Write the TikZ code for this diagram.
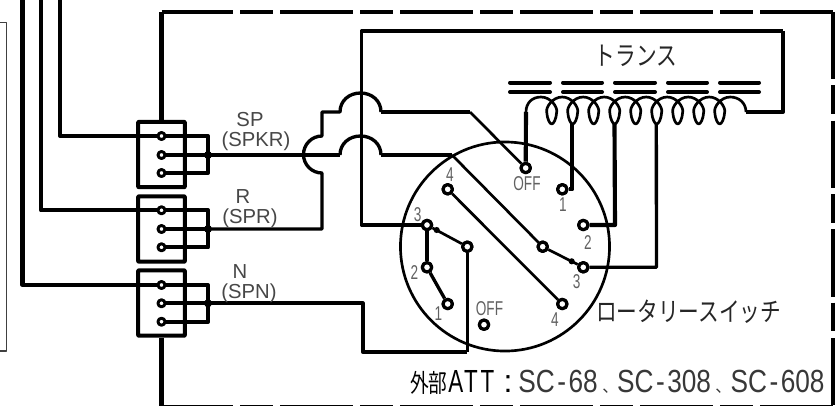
\documentclass[tikz,border=0pt]{standalone}
\usepackage{graphicx}
\usepackage{fontspec}
\setmainfont{Liberation Sans}
\newfontfamily\jpfont{Noto Sans CJK JP}
\newfontfamily\spfont[LetterSpace=12]{Liberation Sans}
\newcommand{\narrow}[1]{\scalebox{0.68}[1]{#1}}
\newcommand{\jptall}[1]{\scalebox{1}[1.28]{#1}}
\newcommand{\scpart}[3]{\makebox[#1pt][c]{\scalebox{0.82}[1]{SC\hspace{2.3pt}-\hspace{2.3pt}#2}}}
\newcommand{\jpcomma}{\makebox[15pt][l]{\hspace{3.5pt}{\jpfont\fontsize{12}{14}\selectfont 、}}}
\begin{document}
\begin{tikzpicture}[x=0.75pt,y=-0.75pt,line join=round,
  wthick/.style={line width=3.1pt},
  wmid/.style={line width=2.5pt},
  wthin/.style={line width=2pt},
  termbox/.style={draw,line width=3.1pt,minimum width=35pt,minimum height=49pt,inner sep=0pt,rounded corners=0.5pt},
  bpin/.style={circle,draw,fill=white,line width=2.2pt,minimum size=5.3pt,inner sep=0pt},
  pin/.style={circle,draw,fill=white,line width=2.4pt,minimum size=7pt,inner sep=0pt},
  dot/.style={circle,fill=black,minimum size=6pt,inner sep=0pt},
  blob/.style={circle,fill=black,minimum size=4.6pt,inner sep=0pt},
  lam/.style={line width=3pt,line cap=round},
  lbl/.style={text=black!72,font=\fontsize{15.2}{16}\selectfont,inner sep=0pt},
  num/.style={text=black!62,font=\fontsize{15}{16}\selectfont,inner sep=0pt},
  jp/.style={text=black!85,font=\jpfont\fontsize{15.5}{16}\selectfont,inner sep=0pt}]
\useasboundingbox (0,0) rectangle (840,405);
\fill[white] (0,0) rectangle (840,405);

% outer dashed frame
\coordinate (ftl) at (161.5,12);
\coordinate (ftr) at (833,12);
\coordinate (fbr) at (833,406.6);
\coordinate (fbl) at (161.5,406.6);
\draw[wthick,dash pattern=on 53.75pt off 5.25pt on 24.75pt off 5.25pt on 54.75pt off 5.25pt on 24.75pt off 5.25pt on 54.75pt off 5.25pt on 24.75pt off 5.25pt on 54.75pt off 5.25pt on 24.75pt off 5.25pt on 54.75pt off 5.25pt on 24.75pt off 5.25pt on 54.75pt off 5.25pt] (ftl) -- (ftr);
\draw[line width=3.5pt,dash pattern=on 50.5pt off 4.5pt on 21.5pt off 5pt] (ftr) -- (fbr);
\draw[wthick,dash pattern=on 53.75pt off 5.25pt on 24.75pt off 5.25pt on 54.75pt off 5.25pt on 24.75pt off 5.25pt on 54.75pt off 5.25pt on 24.75pt off 5.25pt on 54.75pt off 5.25pt on 24.75pt off 5.25pt on 54.75pt off 5.25pt on 24.75pt off 5.25pt on 54.75pt off 5.25pt] (fbl) -- (fbr);

% left panel
\coordinate (pa) at (0,22.5);
\coordinate (pb) at (6.5,22.5);
\coordinate (pc) at (6.5,351);
\coordinate (pd) at (0,351);
\draw[line width=1.1pt,black!75] (pa) -- (pb) -- (pc) -- (pd);

% terminal boxes
\node[termbox] (b1) at (161.5,154.5) {};
\node[termbox] (b2) at (161.5,229) {};
\node[termbox] (b3) at (161.5,303) {};
\draw[wthick] (b1.north) -- (ftl);
\draw[wthick] (b3.south) -- (fbl);

\foreach \n/\y in {a1/136,a2/155,a3/173,c1/210.3,c2/229,c3/247.3,e1/285,e2/303.3,e3/321.7}
  \coordinate (\n) at (161.5,\y);
\coordinate (ba) at (208,136); \coordinate (bb) at (208,155); \coordinate (bc) at (208,173);
\coordinate (bd) at (208,210.3); \coordinate (be) at (208,229); \coordinate (bf) at (208,247.3);
\coordinate (bg) at (208,285); \coordinate (bh) at (208,303.3); \coordinate (bi) at (208,321.7);

% feed wires
\coordinate (w1) at (60.3,-3); \coordinate (w1b) at (60.3,136);
\coordinate (w2) at (41,-3); \coordinate (w2b) at (41,210.3);
\coordinate (w3) at (22.5,-3); \coordinate (w3b) at (22.5,285);
\draw[wthick] (w1) -- (w1b) -- (a1) -- (ba) -- (bc) -- (a3);
\draw[wthick] (a2) -- (bb);
\draw[wthick] (w2) -- (w2b) -- (c1) -- (bd) -- (bf) -- (c3);
\draw[wthick] (c2) -- (be);
\draw[wthick] (w3) -- (w3b) -- (e1) -- (bg) -- (bi) -- (e3);
\draw[wthick] (e2) -- (bh);
\foreach \n in {a1,a2,a3,c1,c2,c3,e1,e2,e3}
  \node[bpin] at (\n) {};
\foreach \n in {bb,be,bh}
  \node[dot] at (\n) {};

% rotary switch
\node[circle,draw,line width=2pt,minimum size=156.8pt,inner sep=0pt] (dial) at (505,246.5) {};
\node[pin] (off1) at (525.7,168) {};
\node[pin] (r1) at (562.3,189.3) {};
\node[pin] (r2) at (583.3,225) {};
\node[pin] (r3) at (583.3,267.3) {};
\node[pin] (rm) at (542.7,246.7) {};
\node[pin] (r4) at (562.3,304) {};
\node[pin] (l4) at (447.7,189.3) {};
\node[pin] (l3) at (427,225) {};
\node[pin] (lm) at (467.3,246.7) {};
\node[pin] (l2) at (427,267.3) {};
\node[pin] (l1) at (447.7,304) {};
\node[pin] (off2) at (484,324.7) {};

% transformer
\foreach \a/\b in {510/550,563/602,615/655,668/707,720/759}{
  \coordinate (la) at (\a,82.5); \coordinate (lb) at (\b,82.5);
  \coordinate (lc) at (\a,92); \coordinate (ld) at (\b,92);
  \draw[lam] (la) -- (lb);
  \draw[lam] (lc) -- (ld);
}
\coordinate (cs) at (526,112);
\coordinate (ce) at (746,112);
\coordinate (t1) at (572.3,124);
\coordinate (t2) at (614.5,124);
\coordinate (t3) at (656.3,124);
\draw[wthin] (cs) .. controls (526,103) and (532,97) .. (541,97)
  \foreach \c in {551.7,572.7,593.7,614.7,635.7,656.7,677.7,698.7,719.7}{
    .. controls (\c-1,97) and (\c+6,107) .. (\c+5,112)
    .. controls (\c+4.5,119) and (\c+2,124) .. (\c,124)
    .. controls (\c-2,124) and (\c-4.5,119) .. (\c-5,112)
    .. controls (\c-6,107) and (\c+1,97) .. (\c+10.5,97)
  }
  .. controls (739,97) and (746,103) .. (ce);

% wires to the transformer
\coordinate (sa) at (361.5,225);
\coordinate (sb) at (361.5,31);
\coordinate (sc) at (782.7,31);
\coordinate (sd) at (782.7,112);
\draw[wmid] (l3) -- (sa) -- (sb) -- (sc);
\draw[wthick] (sc) -- (sd) -- (ce);
\draw[wthick] (cs) -- (off1);
\coordinate (r1c) at (572.3,189.3);
\draw[wthick] (t1) -- (r1c) -- (r1);
\coordinate (r2c) at (615,225);
\draw[wthick] (t2) -- (r2c) -- (r2);
\coordinate (r3c) at (656.5,267.3);
\draw[wmid] (t3) -- (r3c) -- (r3);

% speaker wires
\coordinate (u0) at (322,112);
\coordinate (u1) at (322,136);
\coordinate (u2) at (322,173);
\coordinate (u3) at (322,229);
\draw[wmid] (be) -- (u3) -- (u2)
  .. controls (311.8,173) and (303.5,164.7) .. (303.5,154.5)
  .. controls (303.5,144.3) and (311.8,136) .. (u1) -- (u0) -- (340,112)
  .. controls (340,100.7) and (349.2,93) .. (360.5,93)
  .. controls (371.8,93) and (381,100.7) .. (381,112);
\coordinate (u4) at (381,112);
\coordinate (u5) at (470,112);
\draw[wthick] (u4) -- (u5);
\draw[wthin] (u5) -- (off1);
\coordinate (v1) at (340,155);
\coordinate (v2) at (381,155);
\coordinate (v3) at (452,155);
\draw[wthick] (bb) -- (v1);
\draw[wmid] (v1) .. controls (340,143.7) and (349.2,136) .. (360.5,136)
  .. controls (371.8,136) and (381,143.7) .. (v2);
\draw[wmid] (v2) -- (v3);
\draw[wthin] (v3) -- (rm);
\draw[wthin] (rm) -- (r3);
\draw[wthin] (l4) -- (r4);
\draw[wthin] (l3) -- (lm);
\draw[wthick] (l3) -- (l2);
\draw[wmid] (l2) -- (l1);
\coordinate (x1) at (467.3,351.7);
\coordinate (x2) at (362.7,351.7);
\coordinate (x3) at (362.7,303.3);
\draw[wthick] (bh) -- (x3) -- (x2) -- (x1);
\draw[wmid] (x1) -- (lm);
\node[blob] (bl1) at (436.7,230) {};
\node[blob] (bl2) at (571.7,261.3) {};
\foreach \n in {off1,r1,r2,r3,rm,r4,l4,l3,lm,l2,l1,off2}
  \node[pin] at (\n) {};

% labels
\node[lbl] (t-sp) at (250,120) {SP};
\node[lbl] (t-spkr) at (256,141) {(SPKR)};
\node[lbl] (t-r) at (243,197) {R};
\node[lbl] (t-spr) at (250,218) {(SPR)};
\node[lbl] (t-n) at (240,272) {N};
\node[lbl] (t-spn) at (249,293) {(SPN)};
\node[num] (n-off1) at (527,184) {\narrow{OFF}};
\node[num] (n-off2) at (489.5,309) {\narrow{OFF}};
\node[num] (n-l4) at (450,175) {\narrow{4}};
\node[num] (n-l3) at (417.7,214.3) {\narrow{3}};
\node[num] (n-l2) at (414.3,272.3) {\narrow{2}};
\node[num] (n-l1) at (438.3,313.3) {\narrow{1}};
\node[num] (n-r1) at (563,205) {\narrow{1}};
\node[num] (n-r2) at (588,242.7) {\narrow{2}};
\node[num] (n-r3) at (576.7,281.7) {\narrow{3}};
\node[num] (n-r4) at (555,319.3) {\narrow{4}};
\node[jp] (t-trans) at (636,56) {\jptall{トランス}};
\node[jp] (t-rot) at (688.8,312) {\jptall{ロータリースイッチ}};
\node[inner sep=0pt,anchor=west,text=black!78,font=\fontsize{24}{26}\selectfont] (t-att) at (410,382.5)
  {\makebox[27.75pt][l]{\color{black}\jpfont\fontsize{14}{16}\selectfont\scalebox{1}[1.35]{外部}}\hspace{0.75pt}\makebox[37pt][l]{\color{black}\scalebox{0.7}[1]{\spfont ATT}}\makebox[15.75pt][c]{\color{black}:}\scpart{59.25}{68}{}\jpcomma\scpart{69.75}{308}{}\jpcomma\scpart{70.5}{608}{}};
\end{tikzpicture}
\end{document}
